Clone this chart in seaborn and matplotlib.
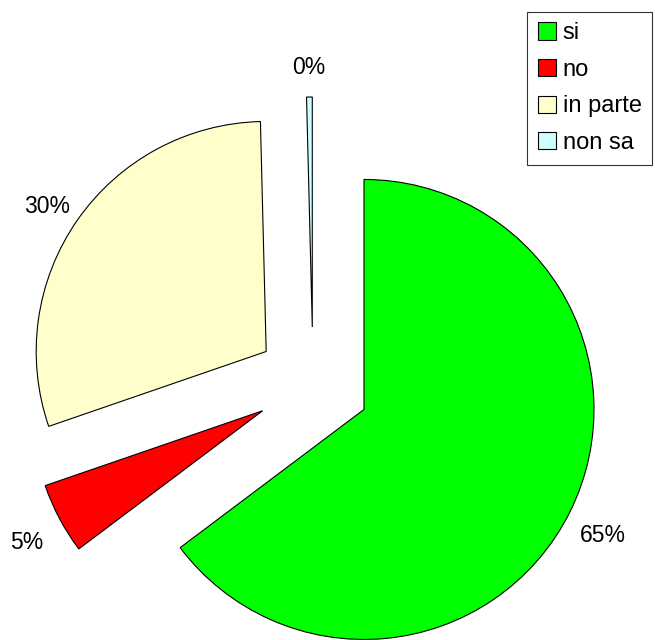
import matplotlib
matplotlib.use("Agg")
import matplotlib.pyplot as plt
import seaborn as sns

# ── Data ─────────────────────────────────────────────────────────────────────
categories = ["si", "no", "in parte", "non sa"]
values     = [65, 5, 30, 0.4]
colors     = ["#00FF00", "#FF0000", "#FFFFCC", "#CCFFFF"]

sns.set_theme(style="white")
plt.rcParams["font.family"] = ["Liberation Sans", "DejaVu Sans"]
plt.rcParams["text.color"] = "black"

fig = plt.figure(figsize=(6.55, 6.4), dpi=100)
ax = fig.add_axes([0, 0, 1, 1])

radius = 230
wedges, texts, autotexts = ax.pie(
    values, colors=colors, explode=[57] * len(values),
    startangle=90, counterclock=False, radius=radius, center=(313, 256),
    autopct=lambda p: f"{p:.0f}%", pctdistance=1.16,
    wedgeprops=dict(edgecolor="black", linewidth=0.8),
    textprops=dict(fontsize=16.5, color="black"), frame=True)

# percent labels sit a touch lower in the original
for t in autotexts:
    x, y = t.get_position()
    t.set_position((x, y - 7))

ax.set_xlim(0, 655)
ax.set_ylim(0, 640)
ax.set_aspect("equal")
ax.axis("off")

leg = ax.legend(wedges, categories, loc="upper right",
                bbox_to_anchor=(0.996, 0.982), bbox_transform=fig.transFigure,
                fontsize=17, frameon=True, fancybox=False, shadow=False,
                handlelength=0.75, handleheight=0.75, handletextpad=0.3,
                labelspacing=0.62, borderpad=0.45, borderaxespad=0)
leg.get_frame().set_edgecolor("black")
leg.get_frame().set_linewidth(0.8)
for t in leg.get_texts():
    t.set_color("black")

fig.savefig("out.png", dpi=100, facecolor="white")
plt.close(fig)
